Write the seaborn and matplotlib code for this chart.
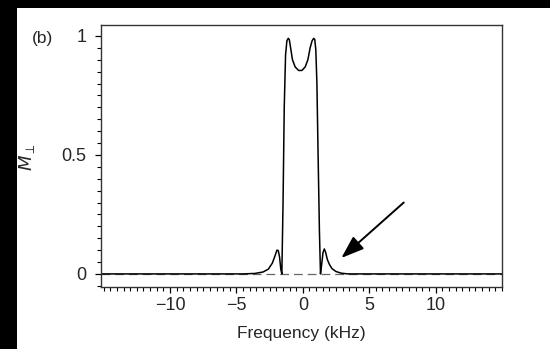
import numpy as np
import pandas as pd
import matplotlib
matplotlib.use("Agg")
import matplotlib.pyplot as plt
from matplotlib.patches import Rectangle
from matplotlib.ticker import MultipleLocator
import seaborn as sns

# values (frequency in kHz, transverse magnetisation)
freq = [-15.2, -4.5, -3.6, -3.0, -2.6, -2.3, -2.1, -1.95, -1.85, -1.75, -1.66, -1.58,
        -1.49, -1.40, -1.30, -1.20, -1.10, -1.02, -0.92, -0.78, -0.58, -0.32, -0.07,
        0.18, 0.38, 0.55, 0.70, 0.82, 0.90, 0.98, 1.06, 1.15, 1.25, 1.33,
        1.42, 1.52, 1.62, 1.72, 1.85, 2.0, 2.2, 2.5, 2.9, 3.4, 15.0]
m_perp = [0.0, 0.0, 0.002, 0.008, 0.02, 0.045, 0.075, 0.10, 0.098, 0.07, 0.02, 0.0,
          0.30, 0.70, 0.92, 0.98, 0.99, 0.985, 0.95, 0.90, 0.87, 0.855, 0.855,
          0.87, 0.90, 0.95, 0.98, 0.99, 0.985, 0.94, 0.80, 0.50, 0.18, 0.0,
          0.04, 0.09, 0.105, 0.09, 0.06, 0.04, 0.022, 0.01, 0.003, 0.0, 0.0]

baseline_x = [-15.2, 15.0]
baseline_y = [0.0, 0.0]

x_ticks = [-10, -5, 0, 5, 10]
y_ticks = [0, 0.5, 1]
y_tick_labels = ["0", "0.5", "1"]

df = pd.DataFrame({"Frequency": freq, "M": m_perp})

sns.set_style("ticks")
plt.rcParams["font.family"] = ["Liberation Sans", "DejaVu Sans"]

fig = plt.figure(figsize=(5.5, 3.49), dpi=100, facecolor="black")
# white page area (black scan borders on top and left)
fig.patches.append(Rectangle((17 / 550, 0), 1 - 17 / 550, 1 - 8 / 349,
                             transform=fig.transFigure, facecolor="white",
                             edgecolor="none", zorder=-5))
ax = fig.add_axes([101 / 550, 1 - 287 / 349, 401 / 550, 262 / 349])
ax.set_zorder(2)
ax.set_facecolor("white")

ax.plot(baseline_x, baseline_y, color="#666666", lw=0.9, ls=(0, (7, 4)))
sns.lineplot(data=df, x="Frequency", y="M", ax=ax, color="black", lw=1.1,
             sort=False, estimator=None)

ax.annotate("", xy=(2.9, 0.067), xytext=(7.6, 0.30),
            arrowprops=dict(arrowstyle="-|>,head_length=1.4,head_width=0.5",
                            color="black", lw=1.4, shrinkA=0, shrinkB=0))

ax.set_xlim(-15.2, 15.0)
ax.set_ylim(-0.055, 1.046)
ax.set_xticks(x_ticks)
ax.set_xticklabels(["\u2212" + str(-t) if t < 0 else str(t) for t in x_ticks])
ax.set_yticks(y_ticks)
ax.set_yticklabels(y_tick_labels)
ax.xaxis.set_minor_locator(MultipleLocator(0.5))
ax.yaxis.set_minor_locator(MultipleLocator(0.05))
ax.tick_params(which="major", length=4.5, width=0.9, labelsize=13, color="black")
ax.tick_params(which="minor", length=3, width=0.8, color="black")
ax.tick_params(axis="x", pad=3)
ax.tick_params(axis="y", pad=6)

for s in ax.spines.values():
    s.set_visible(True)
    s.set_linewidth(1.0)
    s.set_color("#333333")

ax.set_xlabel("Frequency (kHz)", fontsize=12.5, labelpad=8)
ax.set_ylabel(r"$M_{\perp}$", fontsize=13)
ax.yaxis.set_label_coords(-64 / 401, (287 - 157) / 262)
fig.text(32 / 550, 1 - 38 / 349, "(b)", fontsize=12.5, ha="left", va="center")

fig.savefig("out.png", dpi=100, facecolor=fig.get_facecolor())
